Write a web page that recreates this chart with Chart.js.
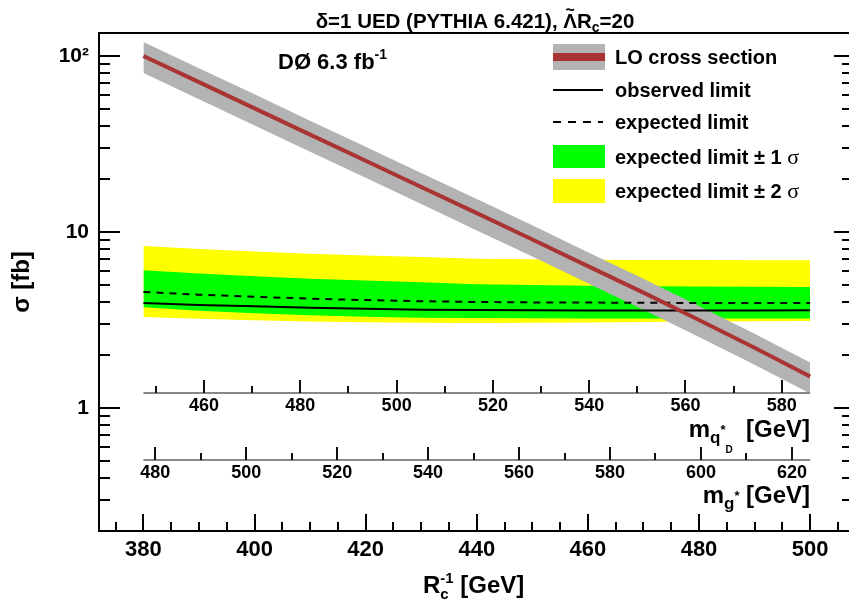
<!DOCTYPE html>
<html>
<head>
<meta charset="utf-8">
<script src="https://cdn.jsdelivr.net/npm/chart.js@4.4.0/dist/chart.umd.min.js"></script>
<style>
  html, body { margin: 0; padding: 0; background: #fff; }
  #wrap { width: 849px; height: 606px; }
</style>
</head>
<body>
<div id="wrap"><canvas id="chart" width="849" height="606"></canvas></div>
<script>
// R_c^-1 [GeV]
const rcInv = [380, 390, 400, 410, 420, 430, 440, 450, 460, 470, 480, 490, 500];
// LO cross section and its band [fb]
const loXsec     = [100, 71.0, 50.4, 35.7, 25.4, 18.0, 12.8, 9.06, 6.40, 4.52, 3.16, 2.20, 1.51];
const loXsecUp   = [120, 85.2, 60.5, 42.8, 30.5, 21.6, 15.4, 10.9, 7.68, 5.42, 3.79, 2.64, 1.81];
const loXsecDown = [80, 56.8, 40.3, 28.6, 20.3, 14.4, 10.2, 7.25, 5.12, 3.62, 2.53, 1.76, 1.21];
// limits [fb]
const observedLimit = [3.95, 3.85, 3.78, 3.71, 3.66, 3.62, 3.60, 3.59, 3.58, 3.58, 3.58, 3.58, 3.59];
const expectedLimit = [4.56, 4.40, 4.28, 4.18, 4.10, 4.04, 4.00, 3.98, 3.97, 3.96, 3.95, 3.95, 3.95];
const exp1sUp   = [6.06, 5.80, 5.60, 5.43, 5.30, 5.18, 5.05, 5.00, 4.95, 4.92, 4.90, 4.88, 4.87];
const exp1sDown = [3.73, 3.57, 3.45, 3.36, 3.30, 3.26, 3.24, 3.23, 3.22, 3.22, 3.22, 3.22, 3.22];
const exp2sUp   = [8.32, 8.00, 7.75, 7.53, 7.35, 7.20, 7.05, 7.00, 6.95, 6.93, 6.92, 6.91, 6.91];
const exp2sDown = [3.29, 3.21, 3.15, 3.10, 3.07, 3.05, 3.04, 3.05, 3.06, 3.08, 3.10, 3.11, 3.12];

// axes
const xTickValues = [380, 400, 420, 440, 460, 480, 500];
const yTickValues = [1, 10, 100];
const yTickLabels = ['1', '10', '10²'];
// secondary mass axes: value range covering R_c^-1 = 380..500
const mqRange = [447.4, 585.9];
const mqTicks = [460, 480, 500, 520, 540, 560, 580];
const mgRange = [477.4, 624.0];
const mgTicks = [480, 500, 520, 540, 560, 580, 600, 620];

const legendLabels = ['LO cross section', 'observed limit', 'expected limit', 'expected limit \u00b1 1 ', 'expected limit \u00b1 2 '];

const SANS = '"Liberation Sans", Arial, sans-serif';
const RED = '#aa3434';
const GRAY = '#b3b3b3';
const GREEN = '#00ff00';
const YELLOW = '#ffff00';

function pts(arr) {
    return arr.map((v, i) => ({ x: rcInv[i], y: v }));
}

function fontOf(p) {
    return (p.bold === false ? '' : 'bold ') + p.size + 'px ' + (p.family || SANS);
}

// draws a list of text pieces one after the other (sub/superscripts);
// a piece with keep:true is stacked over the next one
function richText(ctx, x, y, parts, align) {
    let total = 0, held = 0;
    parts.forEach(p => {
        ctx.font = fontOf(p);
        p.w = ctx.measureText(p.t).width;
        if (p.keep) { held = p.w; return; }
        p.adv = Math.max(p.w, held);
        held = 0;
        total += p.adv;
    });
    let cx = align === 'right' ? x - total : align === 'center' ? x - total / 2 : x;
    ctx.save();
    ctx.fillStyle = '#000';
    ctx.textBaseline = 'alphabetic';
    ctx.textAlign = 'left';
    parts.forEach(p => {
        ctx.font = fontOf(p);
        ctx.fillText(p.t, cx, y + (p.dy || 0));
        if (p.tilde) {
            ctx.font = 'bold ' + Math.round(p.size * 0.8) + 'px ' + SANS;
            ctx.textAlign = 'center';
            ctx.fillText('~', cx + p.w / 2, y - p.size * 0.62);
            ctx.textAlign = 'left';
        }
        if (!p.keep) cx += p.adv;
    });
    ctx.restore();
}

const decorPlugin = {
    id: 'decor',
    afterDatasetsDraw(chart) {
        const { ctx, chartArea: a, scales: { x, y } } = chart;
        ctx.save();
        ctx.strokeStyle = '#000';
        ctx.lineWidth = 2;

        // frame
        ctx.beginPath();
        ctx.moveTo(a.right + 2, a.top);
        ctx.lineTo(a.left, a.top);
        ctx.lineTo(a.left, a.bottom);
        ctx.lineTo(a.right + 2, a.bottom);
        ctx.stroke();

        // y ticks (inside, both sides)
        ctx.beginPath();
        for (let d = -1; d <= 2; d++) {
            for (let m = 1; m <= 9; m++) {
                const v = m * Math.pow(10, d);
                if (v < y.min || v > y.max) continue;
                const py = Math.round(y.getPixelForValue(v));
                const major = m === 1;
                ctx.moveTo(a.left, py);
                ctx.lineTo(a.left + (major ? 21 : 11), py);
                ctx.moveTo(a.right, py);
                ctx.lineTo(a.right - (major ? 15 : 7), py);
            }
        }
        // x ticks (inside, bottom)
        for (let v = 375; v <= x.max; v += 5) {
            const px = Math.round(x.getPixelForValue(v));
            const major = v % 20 === 0;
            ctx.moveTo(px, a.bottom);
            ctx.lineTo(px, a.bottom - (major ? 17 : 9));
        }
        ctx.stroke();

        // secondary mass axes
        const x0 = x.getPixelForValue(rcInv[0]);
        const x1 = x.getPixelForValue(rcInv[rcInv.length - 1]);
        const drawMassAxis = (range, ticks, level) => {
            const py = Math.round(y.getPixelForValue(level));
            const toPx = m => x0 + (m - range[0]) / (range[1] - range[0]) * (x1 - x0);
            ctx.strokeStyle = '#888';
            ctx.lineWidth = 2;
            ctx.beginPath();
            ctx.moveTo(x0, py);
            ctx.lineTo(x1, py);
            ctx.stroke();
            ctx.strokeStyle = '#111';
            ctx.lineWidth = 2;
            ctx.beginPath();
            for (let m = Math.ceil(range[0] / 10) * 10; m <= range[1]; m += 10) {
                const px = Math.round(toPx(m));
                const major = ticks.includes(m);
                ctx.moveTo(px, py);
                ctx.lineTo(px, py - (major ? 13 : 7));
            }
            ctx.stroke();
            ctx.fillStyle = '#000';
            ctx.font = 'bold 18px ' + SANS;
            ctx.textAlign = 'center';
            ctx.textBaseline = 'middle';
            ticks.forEach(m => ctx.fillText(String(m), toPx(m), py + 13));
            return py;
        };
        const qy = drawMassAxis(mqRange, mqTicks, 1.21);
        const gy = drawMassAxis(mgRange, mgTicks, 0.505);
        ctx.restore();

        richText(ctx, x1, qy + 44, [
            { t: 'm', size: 24 },
            { t: 'q', size: 17, dy: 6 },
            { t: '*', size: 13, dy: -3 },
            { t: 'D', size: 10, dy: 16 },
            { t: '  [GeV]', size: 24 }
        ], 'right');
        richText(ctx, x1, gy + 43, [
            { t: 'm', size: 24 },
            { t: 'g', size: 17, dy: 6 },
            { t: '*', size: 13, dy: -3 },
            { t: ' [GeV]', size: 24 }
        ], 'right');
    },
    afterDraw(chart) {
        const { ctx } = chart;
        // title
        richText(ctx, 475, 28, [
            { t: '\u03b4=1 UED (PYTHIA 6.421), ', size: 20.5 },
            { t: '\u039b', size: 20.5, tilde: true },
            { t: 'R', size: 20.5 },
            { t: 'c', size: 14, dy: 4 },
            { t: '=20', size: 20.5 }
        ], 'center');
        // x title
        richText(ctx, 423, 593, [
            { t: 'R', size: 24 },
            { t: '-1', size: 15, dy: -10, keep: true },
            { t: 'c', size: 15, dy: 6 },
            { t: ' [GeV]', size: 24 }
        ], 'left');
        // experiment label
        richText(ctx, 278, 69, [
            { t: 'D\u00d8 6.3 fb', size: 22 },
            { t: '-1', size: 14, dy: -10 }
        ], 'left');

        // legend
        const lx = 553, lw = 52, tx = 615;
        const rows = [57, 90, 122, 156.5, 190.5];
        ctx.save();
        ctx.fillStyle = GRAY;
        ctx.fillRect(lx, 44, lw, 26);
        ctx.fillStyle = RED;
        ctx.fillRect(lx, 53, lw, 8);
        ctx.strokeStyle = '#000';
        ctx.lineWidth = 2;
        ctx.beginPath();
        ctx.moveTo(lx, rows[1]);
        ctx.lineTo(lx + 50, rows[1]);
        ctx.stroke();
        ctx.setLineDash([8, 7]);
        ctx.beginPath();
        ctx.moveTo(lx, rows[2]);
        ctx.lineTo(lx + 50, rows[2]);
        ctx.stroke();
        ctx.setLineDash([]);
        ctx.fillStyle = GREEN;
        ctx.fillRect(lx, 145, lw, 23);
        ctx.fillStyle = YELLOW;
        ctx.fillRect(lx, 179, lw, 24);
        ctx.restore();
        legendLabels.forEach((label, i) => {
            const parts = [{ t: label, size: 20 }];
            if (i >= 3) parts.push({ t: '\u03c3', size: 22, bold: false, family: '"Liberation Serif", serif' });
            richText(ctx, tx, rows[i] + 7, parts, 'left');
        });
    }
};

const ctx = document.getElementById('chart').getContext('2d');
new Chart(ctx, {
    type: 'line',
    data: {
        datasets: [
            { label: 'expected limit \u00b1 2 \u03c3', data: pts(exp2sUp), borderWidth: 0, backgroundColor: YELLOW, fill: '+1', order: 10 },
            { label: '2s low', data: pts(exp2sDown), borderWidth: 0, fill: false, order: 10 },
            { label: 'expected limit \u00b1 1 \u03c3', data: pts(exp1sUp), borderWidth: 0, backgroundColor: GREEN, fill: '+1', order: 8 },
            { label: '1s low', data: pts(exp1sDown), borderWidth: 0, fill: false, order: 8 },
            { label: 'LO band', data: pts(loXsecUp), borderWidth: 0, backgroundColor: GRAY, fill: '+1', order: 6 },
            { label: 'LO band low', data: pts(loXsecDown), borderWidth: 0, fill: false, order: 6 },
            { label: 'expected limit', data: pts(expectedLimit), borderColor: '#000', borderWidth: 2, borderDash: [7, 6], fill: false, order: 3 },
            { label: 'observed limit', data: pts(observedLimit), borderColor: '#000', borderWidth: 2, fill: false, order: 2 },
            { label: 'LO cross section', data: pts(loXsec), borderColor: RED, borderWidth: 4, fill: false, order: 1 }
        ]
    },
    options: {
        responsive: false,
        animation: false,
        devicePixelRatio: 1,
        layout: { padding: { top: 33, right: 0, left: 0, bottom: 0 } },
        elements: { point: { radius: 0 }, line: { tension: 0 } },
        plugins: {
            legend: { display: false },
            tooltip: { enabled: false },
            filler: { drawTime: 'beforeDatasetDraw' }
        },
        scales: {
            x: {
                type: 'linear',
                min: 372,
                max: 507,
                afterBuildTicks: s => { s.ticks = xTickValues.map(v => ({ value: v })); },
                afterFit: s => { s.height = 75; },
                grid: { display: false, drawTicks: false },
                border: { display: false },
                ticks: {
                    autoSkip: false, maxRotation: 0, padding: 6, color: '#000',
                    font: { family: SANS, size: 22, weight: 'bold' }
                }
            },
            y: {
                type: 'logarithmic',
                min: 0.2,
                max: 135,
                afterBuildTicks: s => { s.ticks = yTickValues.map(v => ({ value: v })); },
                afterFit: s => { s.width = 99; },
                grid: { display: false, drawTicks: false },
                border: { display: false },
                ticks: {
                    autoSkip: false, padding: 10, color: '#000',
                    font: { family: SANS, size: 21, weight: 'bold' },
                    callback: v => yTickLabels[yTickValues.indexOf(v)]
                },
                title: {
                    display: true, text: '\u03c3 [fb]', color: '#000',
                    font: { family: SANS, size: 24, weight: 'bold' },
                    padding: { top: 8, bottom: 0 }
                }
            }
        }
    },
    plugins: [decorPlugin]
});
</script>
</body>
</html>
